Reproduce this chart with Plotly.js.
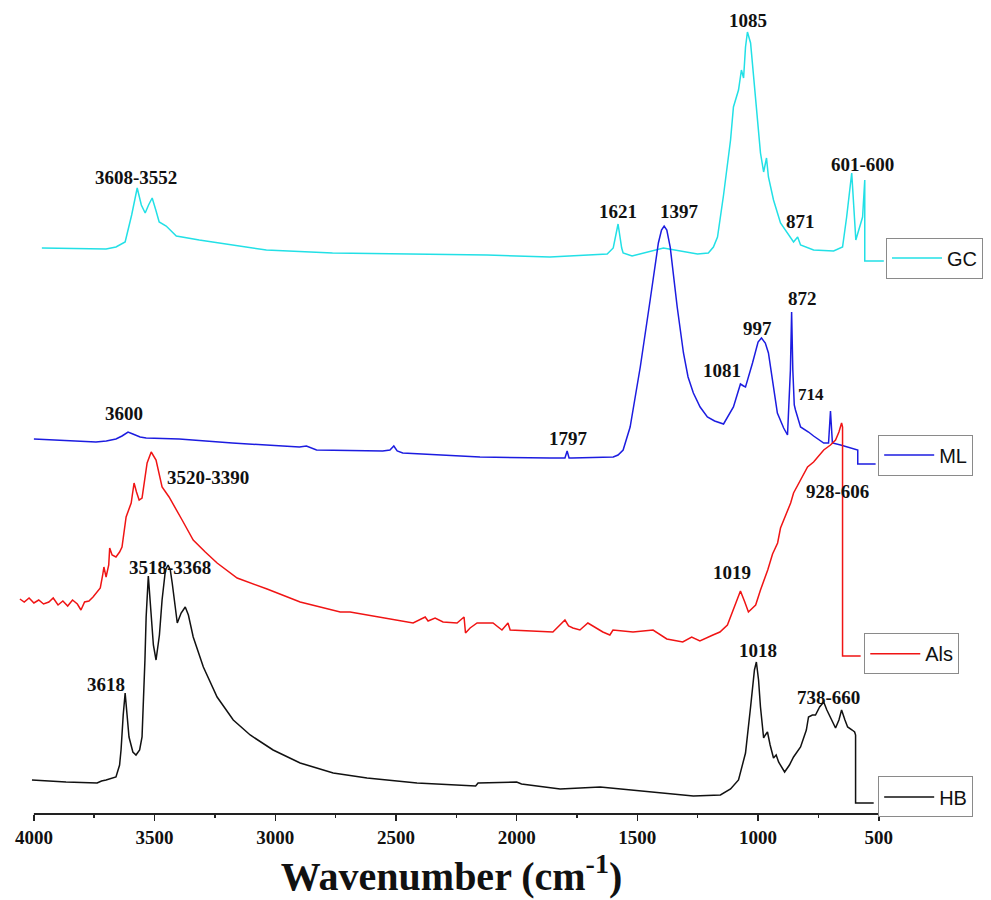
<!DOCTYPE html>
<html>
<head>
<meta charset="utf-8">
<script src="https://cdn.plot.ly/plotly-3.0.1.min.js"></script>
<style>html,body{margin:0;padding:0;background:#fff}#chart{width:991px;height:900px}</style>
</head>
<body>
<div id="chart"></div>
<script>
// Wavenumber (cm-1) and stacked intensity (a.u., offsets included)
const gcX = [3967,3701,3660,3622,3595,3572,3555,3539,3525,3510,3495,3481,3452,3410,3315,3178,3037,2763,2277,2123,1862,1625,1600,1580,1565,1559,1522,1392,1251,1206,1185,1168,1143,1114,1102,1081,1069,1060,1052,1044,1031,1010,990,977,965,957,936,907,853,836,824,770,687,650,633,612,595,567,558,558,479];
const gcY = [562,561,563,568,595,622,605,597,605,612,600,588,584,574,570,565,560,557,555,555,553,556,562,586,562,557,554,562,556,557,563,573,615,670,703,720,740,732,763,778,767,710,657,638,652,633,610,587,568,573,565,560,559,563,593,637,570,593,630,549,549];

const mlX = [4000,3900,3800,3743,3700,3660,3635,3610,3590,3560,3535,3398,3178,2900,2871,2850,2829,2555,2525,2509,2495,2472,2277,2152,1862,1800,1791,1783,1771,1600,1580,1559,1530,1488,1447,1413,1400,1389,1378,1364,1335,1309,1290,1268,1240,1210,1180,1143,1102,1073,1060,1052,1023,1000,986,970,957,920,894,878,866,861,856,850,845,824,791,770,728,708,700,692,658,616,587,587,513];
const mlY = [371,370,369,368,369,371,374,378,376,373,372,371,367,363,364,362,360,359,360,364,359,357,355,353,352,352,359,352,352,353,355,360,383,443,510,567,580,584,580,563,503,457,433,417,403,393,389,386,403,426,424,423,447,468,472,467,457,397,382,375,440,498,440,405,400,383,378,374,367,367,399,367,365,362,360,346,346];

const alsX = [4058,4040,4020,4000,3980,3960,3938,3920,3900,3880,3860,3840,3820,3805,3790,3772,3755,3743,3725,3715,3710,3701,3690,3686,3676,3660,3645,3635,3625,3618,3597,3585,3575,3564,3552,3531,3514,3494,3469,3440,3386,3340,3290,3241,3158,3034,2897,2731,2690,2553,2429,2379,2367,2338,2305,2247,2218,2212,2193,2164,2098,2061,2036,2027,1932,1850,1800,1785,1767,1738,1705,1643,1614,1601,1518,1435,1378,1312,1275,1241,1187,1158,1127,1094,1073,1055,1040,1010,990,960,940,919,907,865,853,795,770,728,700,679,665,654,650,650,575];
const alsY = [211,208,212,207,210,206,208,212,205,209,204,210,206,200,208,209,213,217,222,235,243,233,245,262,255,253,258,263,280,293,307,327,318,310,312,347,358,350,323,313,290,270,258,247,232,221,208,198,198,192,187,193,189,192,188,187,193,177,182,187,187,180,187,180,179,178,190,184,182,180,187,178,175,180,178,180,171,168,173,169,175,178,185,207,219,208,198,205,220,240,256,267,282,307,317,343,348,360,365,370,378,387,383,154,154];

const hbX = [4008,3867,3738,3720,3701,3660,3645,3639,3630,3622,3614,3606,3590,3577,3562,3552,3540,3535,3526,3515,3505,3494,3480,3469,3455,3444,3435,3427,3406,3390,3373,3360,3340,3298,3241,3174,3104,3009,2897,2760,2620,2413,2276,2170,2160,2000,1980,1820,1654,1405,1268,1156,1114,1081,1052,1031,1015,1007,998,990,977,970,961,950,936,925,915,890,870,853,824,800,791,775,762,745,728,715,700,679,665,654,640,629,610,600,596,596,521];
const hbY = [30,28,27,29,30,33,45,60,95,117,95,73,58,55,60,73,150,193,234,200,165,150,175,210,240,245,240,227,187,197,203,195,173,143,113,90,75,60,47,37,32,27,25,24,27,28,26,21,23,17,14,15,21,30,57,103,140,148,130,103,72,75,78,65,52,55,48,38,45,53,63,80,93,95,95,103,108,100,93,82,90,100,90,83,80,78,75,7,7];

const seriesNames = ["GC","ML","Als","HB"];
const seriesColors = ["#22e0e6","#1c1ce0","#f01414","#111111"];

// Peak labels: text, wavenumber, intensity
const labelText = ["3608-3552","3600","3520-3390","3518-3368","3618","1621","1397","1797","1081","997","1085","871","601-600","872","714","928-606","1019","1018","738-660"];
const labelX    = [3576,3625,3278,3435,3700,1580,1324,1787,1150,1001,1042,825,566,814,780,670,1108,1001,708];
const labelY    = [633,397,333,243,126,599,599,372,440,482,790,589,646,512,416,319,238,160,113];

const tickVals = [4000,3500,3000,2500,2000,1500,1000,500];
const minorVals = [3750,3250,2750,2250,1750,1250,750];

const xs = [gcX, mlX, alsX, hbX];
const ys = [gcY, mlY, alsY, hbY];
const legendIds = ["legend","legend2","legend3","legend4"];

const traces = seriesNames.map((n,i)=>({
  type:"scatter", mode:"lines", name:n, x:xs[i], y:ys[i],
  line:{color:seriesColors[i], width:1.5},
  legend: legendIds[i], hoverinfo:"skip"
}));

const annFont = {family:"Liberation Serif, Times New Roman, serif", size:19, color:"#111", weight:"bold"};
const annotations = labelText.map((t,i)=>({
  text:t, x:labelX[i], y:labelY[i], xref:"x", yref:"y", showarrow:false,
  font: Object.assign({}, annFont, t==="714" ? {size:17} : {})
}));

function legendBox(xp, yp){
  return {x:xp, y:yp, xanchor:"left", yanchor:"middle", xref:"paper", yref:"paper",
    bgcolor:"#ffffff", bordercolor:"#8a8a8a", borderwidth:1, itemwidth:50,
    font:{family:"Liberation Sans, Arial, sans-serif", size:20, color:"#111"},
    tracegroupgap:0, itemclick:false};
}

const layout = {
  width:991, height:900,
  margin:{l:17, r:105, t:0, b:86},
  paper_bgcolor:"#fff", plot_bgcolor:"#fff",
  showlegend:true,
  legend: legendBox(1.0, 0.683),
  legend2: legendBox(0.991, 0.441),
  legend3: legendBox(0.975, 0.197),
  legend4: legendBox(0.991, 0.021),
  xaxis:{
    range:[4070,470], showgrid:false, zeroline:false, showline:false,
    tickmode:"array", tickvals:tickVals, ticktext:tickVals.map(String),
    ticks:"outside", ticklen:6, tickwidth:1.5, tickcolor:"#222",
    tickfont:{family:"Liberation Serif", size:19, color:"#111", weight:"bold"},
    minor:{tickmode:"array", tickvals:minorVals, ticks:"outside", ticklen:3, tickwidth:1.5, tickcolor:"#222", showgrid:false},
    title:{text:"Wavenumber (cm<sup>-1</sup>)", standoff:12,
      font:{family:"Liberation Serif, Times New Roman, serif", size:40, color:"#111", weight:"bold"}}
  },
  yaxis:{visible:false, range:[-4,810], fixedrange:true},
  shapes:[{type:"line", xref:"x", yref:"paper", x0:4000, x1:500, y0:0, y1:0, line:{color:"#222", width:2}}],
  annotations: annotations
};

Plotly.newPlot("chart", traces, layout, {displayModeBar:false, staticPlot:true});
</script>
</body>
</html>
